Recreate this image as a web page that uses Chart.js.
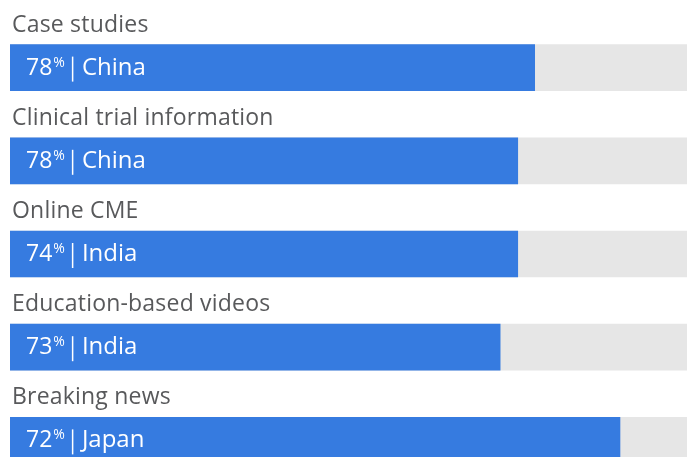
<!DOCTYPE html>
<html>
<head>
<meta charset="utf-8">
<script src="https://cdn.jsdelivr.net/npm/chart.js@4/dist/chart.umd.min.js"></script>
<style>
  html, body { margin: 0; padding: 0; background: #fff; overflow: hidden; }
  #wrap { width: 688px; height: 457px; overflow: hidden; }
</style>
</head>
<body>
<div id="wrap"><canvas id="chart-canvas" width="688" height="500"></canvas></div>
<script>
const categories = ["Case studies", "Clinical trial information", "Online CME", "Education-based videos", "Breaking news"];
const barValues = [77.5, 75, 75, 72.4, 90.1];
const trackValues = [100, 100, 100, 100, 100];
const percents = [78, 78, 74, 73, 72];
const countries = ["China", "China", "India", "India", "Japan"];

const FONT = "'Open Sans'";

const labelPlugin = {
  id: "rowLabels",
  afterDatasetsDraw(chart) {
    const ctx = chart.ctx;
    const meta = chart.getDatasetMeta(0);
    ctx.save();
    meta.data.forEach((bar, i) => {
      const top = bar.y - bar.height / 2;
      const left = chart.chartArea.left;
      // category label above the bar
      ctx.fillStyle = "#58595b";
      ctx.font = "23px " + FONT;
      ctx.letterSpacing = "0.2px";
      ctx.textBaseline = "alphabetic";
      ctx.textAlign = "left";
      ctx.fillText(categories[i], left + 2, top - 13);
      ctx.letterSpacing = "0px";
      // value text inside the bar
      const base = bar.y + 7;
      let x = left + 16;
      ctx.fillStyle = "#ffffff";
      ctx.font = "23px " + FONT;
      const num = String(percents[i]);
      ctx.fillText(num, x, base);
      x += ctx.measureText(num).width + 1;
      ctx.font = "14px " + FONT;
      ctx.fillText("%", x, base - 8);
      x += ctx.measureText("%").width + 7;
      ctx.fillRect(x, bar.y - 11, 1.5, 25);
      x += 10;
      ctx.font = "24px " + FONT;
      ctx.fillText(countries[i], x, base);
    });
    ctx.restore();
  }
};

let ctx = document.getElementById("chart-canvas");

let chart = new Chart(ctx, {
  type: "bar",
  data: {
    labels: categories,
    datasets: [
      {
        data: barValues,
        backgroundColor: "#367be0",
        barThickness: 46,
        grouped: false,
        order: 0
      },
      {
        data: trackValues,
        backgroundColor: "#e6e6e6",
        barThickness: 46,
        grouped: false,
        order: 1
      }
    ]
  },
  options: {
    indexAxis: "y",
    responsive: false,
    animation: false,
    layout: { padding: { left: 10, right: 1, top: 21, bottom: 13 } },
    scales: {
      x: { display: false, min: 0, max: 100 },
      y: { display: false }
    },
    plugins: {
      legend: { display: false },
      tooltip: { enabled: false }
    }
  },
  plugins: [labelPlugin]
});
</script>
</body>
</html>
